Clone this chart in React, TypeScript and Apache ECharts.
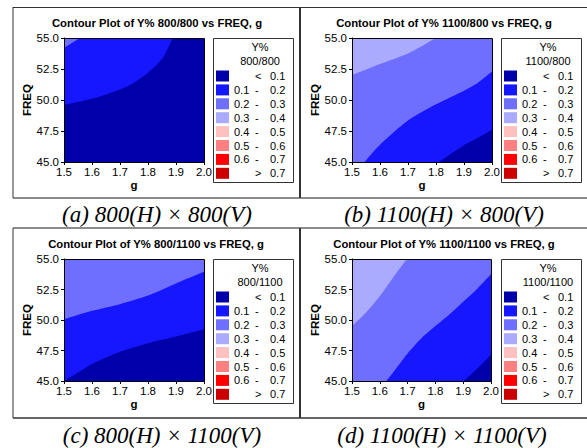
import React, { useEffect, useRef } from "react";
import * as echarts from "echarts";

// ---------- data ----------
const CLASS_LABELS = ["< 0.1", "0.1 - 0.2", "0.2 - 0.3", "0.3 - 0.4", "0.4 - 0.5", "0.5 - 0.6", "0.6 - 0.7", "> 0.7"];
const CLASS_COLORS = ["#0000AA", "#1616FF", "#6E6EFF", "#AAAAFF", "#FFC0C0", "#FF8080", "#FF0000", "#CC0000"];

const PANEL_TITLES = [
  "Contour Plot of Y% 800/800 vs FREQ, g",
  "Contour Plot of Y% 1100/800 vs FREQ, g",
  "Contour Plot of Y% 800/1100 vs FREQ, g",
  "Contour Plot of Y% 1100/1100 vs FREQ, g",
];
const PANEL_SUBTITLES = ["800/800", "1100/800", "800/1100", "1100/1100"];
const CAPTIONS = ["(a) 800(H) \u00d7 800(V)", "(b) 1100(H) \u00d7 800(V)", "(c) 800(H) \u00d7 1100(V)", "(d) 1100(H) \u00d7 1100(V)"];

// Contour boundaries: [g, FREQ] pairs (values outside the plot are clipped)
// Panel (a) 800/800
const A_TOP_CLASS = 2;
const A_B21 = [[1.5, 54.2], [1.557, 55.0], [1.6, 55.6], [1.8, 58.0], [2.0, 60.0]];
const A_B10 = [[1.5, 49.6], [1.6, 50.1], [1.7, 50.85], [1.75, 51.4], [1.8, 52.2], [1.85, 53.3], [1.88, 54.6], [1.9, 55.6], [2.0, 59.0]];
// Panel (b) 1100/800
const B_TOP_CLASS = 3;
const B_B32 = [[1.5, 52.0], [1.6, 52.9], [1.7, 53.75], [1.8, 55.0], [1.9, 56.2], [2.0, 57.5]];
const B_B21 = [[1.5, 43.6], [1.545, 45.0], [1.6, 46.4], [1.7, 48.35], [1.8, 49.65], [1.9, 50.75], [1.95, 51.4], [2.0, 52.3]];
const B_B10 = [[1.7, 43.5], [1.81, 45.0], [1.9, 46.35], [1.95, 46.95], [2.0, 47.6]];
// Panel (c) 800/1100
const C_TOP_CLASS = 2;
const C_B21 = [[1.5, 50.05], [1.6, 50.75], [1.7, 51.3], [1.8, 52.0], [1.9, 53.0], [2.0, 53.95]];
const C_B10 = [[1.48, 44.6], [1.5, 45.0], [1.55, 45.7], [1.6, 46.4], [1.7, 47.4], [1.8, 48.1], [1.9, 48.65], [2.0, 49.25]];
// Panel (d) 1100/1100
const D_TOP_CLASS = 3;
const D_B32 = [[1.5, 49.5], [1.55, 50.6], [1.6, 51.95], [1.65, 53.55], [1.7, 55.05], [1.8, 57.5], [2.0, 61.0]];
const D_B21 = [[1.55, 43.6], [1.623, 45.0], [1.7, 47.25], [1.75, 48.5], [1.8, 49.5], [1.85, 50.45], [1.9, 51.5], [1.95, 52.55], [2.0, 53.75]];
const D_B10 = [[1.85, 44.0], [1.902, 45.0], [1.95, 46.0], [2.0, 47.15]];

const G_MIN = 1.5, G_MAX = 2.0, G_STEP = 0.1;
const F_MIN = 45, F_MAX = 55, F_STEP = 2.5;

const PANELS = [
  { top: A_TOP_CLASS, bounds: [{ data: A_B21, below: 1 }, { data: A_B10, below: 0 }] },
  { top: B_TOP_CLASS, bounds: [{ data: B_B32, below: 2 }, { data: B_B21, below: 1 }, { data: B_B10, below: 0 }] },
  { top: C_TOP_CLASS, bounds: [{ data: C_B21, below: 1 }, { data: C_B10, below: 0 }] },
  { top: D_TOP_CLASS, bounds: [{ data: D_B32, below: 2 }, { data: D_B21, below: 1 }, { data: D_B10, below: 0 }] },
];

// ---------- layout ----------
const SANS = "'Liberation Sans', Arial, sans-serif";
const SERIF = "'Liberation Serif', 'Times New Roman', serif";
const GRIDS = [
  { left: 64, top: 38, width: 140, height: 124 },
  { left: 352, top: 38, width: 140, height: 124 },
  { left: 64, top: 259, width: 140, height: 122 },
  { left: 352, top: 259, width: 139, height: 122 },
];
const LEG_BOX = [
  { x: 213, y: 38, w: 80, h: 144 },
  { x: 501, y: 38, w: 80, h: 144 },
  { x: 213, y: 259, w: 80, h: 144 },
  { x: 501, y: 259, w: 80, h: 144 },
];
const TITLE_POS = [[157, 23], [444, 23], [156, 244], [444, 244]];
const CAPTION_POS = [[157, 214], [444, 214], [162, 435], [442, 435]];

function buildOption() {
  const series: any[] = [];
  // legend swatch series
  CLASS_LABELS.forEach((name, i) => {
    series.push({ type: "bar", name, data: [], xAxisIndex: 0, yAxisIndex: 0, itemStyle: { color: CLASS_COLORS[i] } });
  });
  PANELS.forEach((p, pi) => {
    p.bounds.forEach((b, bi) => {
      series.push({
        type: "line",
        name: `p${pi}-b${bi}`,
        xAxisIndex: pi,
        yAxisIndex: pi,
        data: b.data,
        smooth: 0.25,
        symbol: "none",
        silent: true,
        clip: true,
        lineStyle: { width: 0, opacity: 0 },
        areaStyle: { color: CLASS_COLORS[b.below], opacity: 1, origin: "start" },
        z: 2 + bi,
      });
    });
  });

  const grid = GRIDS.map((g, i) => ({
    ...g,
    show: true,
    backgroundColor: CLASS_COLORS[PANELS[i].top],
    borderWidth: 0,
  }));

  const tickFont = { fontSize: 11.5, color: "#000", fontFamily: SANS };
  const xAxis = GRIDS.map((_, i) => ({
    gridIndex: i,
    type: "value",
    min: G_MIN,
    max: G_MAX,
    interval: G_STEP,
    axisLine: { show: true, lineStyle: { color: "#000", width: 1 } },
    axisTick: { show: true, length: 3, lineStyle: { color: "#000" } },
    splitLine: { show: false },
    axisLabel: { formatter: (v: number) => v.toFixed(1), ...tickFont, margin: 4 },
    name: "g",
    nameLocation: "middle",
    nameGap: 16,
    nameTextStyle: { fontWeight: "bold", fontSize: 11.5, color: "#000", fontFamily: SANS },
  }));
  const yAxis = GRIDS.map((_, i) => ({
    gridIndex: i,
    type: "value",
    min: F_MIN,
    max: F_MAX,
    interval: F_STEP,
    axisLine: { show: true, lineStyle: { color: "#000", width: 1 } },
    axisTick: { show: true, length: 3, lineStyle: { color: "#000" } },
    splitLine: { show: false },
    axisLabel: { formatter: (v: number) => v.toFixed(1), ...tickFont, margin: 5 },
    name: "FREQ",
    nameLocation: "middle",
    nameGap: 30,
    nameRotate: 90,
    nameTextStyle: { fontWeight: "bold", fontSize: 11.5, color: "#000", fontFamily: SANS },
  }));

  const richBase = { fontSize: 11, fontFamily: SANS, color: "#000", lineHeight: 11 };
  const legend = LEG_BOX.map((b) => ({
    orient: "vertical",
    left: b.x + 3,
    top: b.y + 32.5,
    padding: 0,
    itemWidth: 13,
    itemHeight: 11,
    itemGap: 2.9,
    icon: "rect",
    selectedMode: false,
    data: CLASS_LABELS,
    formatter: (name: string) => {
      if (name.startsWith("<") || name.startsWith(">")) {
        const [sym, val] = name.split(" ");
        return `{lo| }{mid|${sym}}{hi|${val}}`;
      }
      const [lo, hi] = name.split(" - ");
      return `{lo|${lo}}{mid|-}{hi|${hi}}`;
    },
    textStyle: {
      ...richBase,
      rich: {
        lo: { ...richBase, width: 21, align: "left" },
        mid: { ...richBase, width: 15, align: "left" },
        hi: { ...richBase, align: "left" },
      },
    },
  }));

  const elements: any[] = [];
  const lineStyle = { stroke: "#333", lineWidth: 1 };
  const hl = (y: number, col = "#333", w = 1) =>
    elements.push({ type: "line", shape: { x1: 13, y1: y, x2: 590, y2: y }, style: { stroke: col, lineWidth: w }, z: 20 });
  hl(7.5);
  hl(198, "#666", 1.5);
  hl(228, "#666", 1.5);
  hl(418, "#333", 1.5);
  [[7, 198], [228, 418]].forEach(([y1, y2]) => {
    elements.push({ type: "line", shape: { x1: 13, y1, x2: 13, y2 }, style: lineStyle, z: 20 });
    elements.push({ type: "line", shape: { x1: 300, y1, x2: 300, y2 }, style: { stroke: "#333", lineWidth: 2 }, z: 20 });
  });

  GRIDS.forEach((g, i) => {
    elements.push({
      type: "rect",
      shape: { x: g.left + 0.5, y: g.top + 0.5, width: g.width, height: g.height },
      style: { fill: "none", stroke: "#000", lineWidth: 1 },
      z: 20,
      silent: true,
    });
    const b = LEG_BOX[i];
    elements.push({
      type: "rect",
      shape: { x: b.x + 0.5, y: b.y + 0.5, width: b.w, height: b.h },
      style: { fill: "#fff", stroke: "#333", lineWidth: 1 },
      z: 0,
    });
    elements.push({
      type: "text",
      x: b.x + 47,
      y: b.y + 9,
      style: { text: "Y%", fill: "#000", font: `11px ${SANS}`, textAlign: "center", textVerticalAlign: "middle" },
      z: 20,
    });
    elements.push({
      type: "text",
      x: b.x + 47,
      y: b.y + 23,
      style: { text: PANEL_SUBTITLES[i], fill: "#000", font: `11px ${SANS}`, textAlign: "center", textVerticalAlign: "middle" },
      z: 20,
    });
    elements.push({
      type: "text",
      x: TITLE_POS[i][0],
      y: TITLE_POS[i][1],
      style: { text: PANEL_TITLES[i], fill: "#000", font: `bold 11.3px ${SANS}`, textAlign: "center", textVerticalAlign: "middle" },
      z: 20,
    });
    elements.push({
      type: "text",
      x: CAPTION_POS[i][0],
      y: CAPTION_POS[i][1],
      style: { text: CAPTIONS[i], fill: "#000", font: `italic 23px ${SERIF}`, textAlign: "center", textVerticalAlign: "middle" },
      z: 20,
    });
  });

  return {
    animation: false,
    backgroundColor: "#fff",
    grid,
    xAxis,
    yAxis,
    legend,
    series,
    graphic: { elements },
  };
}

export default function App() {
  const ref = useRef<HTMLDivElement>(null);
  useEffect(() => {
    if (!ref.current) return;
    const chart = echarts.init(ref.current, undefined, { renderer: "svg" });
    chart.setOption(buildOption() as any);
    return () => chart.dispose();
  }, []);
  return <div ref={ref} style={{ position: "fixed", left: 0, top: 0, width: 587, height: 448 }} />;
}
